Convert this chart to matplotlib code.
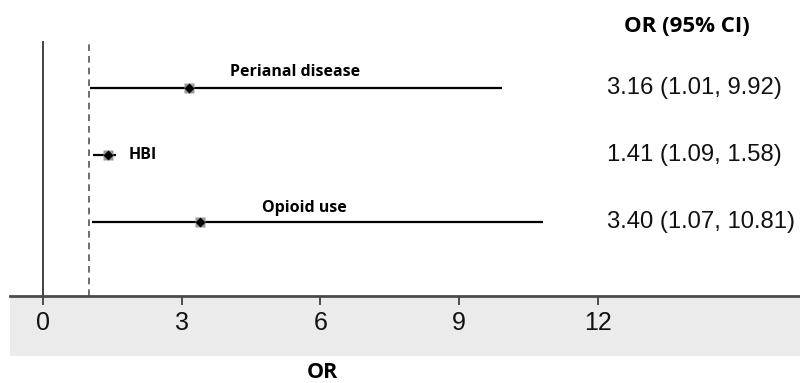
import matplotlib
matplotlib.use("Agg")
import matplotlib.pyplot as plt
from matplotlib import transforms
from matplotlib.patches import Rectangle

labels = ["Perianal disease", "HBI", "Opioid use"]
or_vals = [3.16, 1.41, 3.40]
ci_low = [1.01, 1.09, 1.07]
ci_high = [9.92, 1.58, 10.81]
rows = [3, 2, 1]
ci_text = ["3.16 (1.01, 9.92)", "1.41 (1.09, 1.58)", "3.40 (1.07, 10.81)"]
xticks = [0, 3, 6, 9, 12]

W, H = 800, 383
fig = plt.figure(figsize=(8, 3.83), dpi=100)
ax = fig.add_axes([10 / W, (H - 296) / H, 790 / W, (296 - 41) / H])

# gray band under axis
fig.patches.append(Rectangle((10 / W, (H - 356) / H), 790 / W, 60 / H,
                             transform=fig.transFigure, facecolor="#ebebeb",
                             edgecolor="none", zorder=-5))

ax.set_xlim(-33 / 46.25, 757 / 46.25)
ax.set_ylim(-0.096, 3.70)
ax.patch.set_alpha(0)

ax.axvline(0, color="#333333", lw=1.3, zorder=1)
ax.axvline(1, color="#555555", lw=1.2, ls=(0, (4, 3)), zorder=1)

for y, o, lo, hi in zip(rows, or_vals, ci_low, ci_high):
    ax.plot([lo, hi], [y, y], color="black", lw=1.6, zorder=2, solid_capstyle="butt")
    ax.plot([o], [y], marker="s", ms=7, color="#9a9a9a", mec="none", zorder=3)
    ax.plot([o], [y], marker="D", ms=5, color="black", mec="none", zorder=4)

lab_font = dict(family=["Open Sans", "DejaVu Sans"], fontweight="bold", fontsize=11.5)
ax.text(295 / 46.25 - 43 / 46.25, 3.24, labels[0], ha="center", va="center", **lab_font)
ax.text(129 / 46.25 - 43 / 46.25, 2.0, labels[1], ha="left", va="center", **lab_font)
ax.text(304 / 46.25 - 43 / 46.25, 2.21 - 1.0, labels[2], ha="center", va="center", **lab_font)

trans = transforms.blended_transform_factory(fig.transFigure, ax.transData)
for y, t in zip(rows, ci_text):
    ax.text(607 / W, y, t, transform=trans, ha="left", va="center",
            fontsize=17.2, family=["Liberation Sans", "DejaVu Sans"], color="#111111")

fig.text(687 / W, (H - 26) / H, "OR (95% CI)", ha="center", va="center",
         fontsize=16, fontweight="bold", family=["Open Sans", "DejaVu Sans"])
fig.text(322 / W, (H - 372) / H, "OR", ha="center", va="center",
         fontsize=15.5, fontweight="bold", family=["Open Sans", "DejaVu Sans"])

for s in ["top", "right", "left"]:
    ax.spines[s].set_visible(False)
ax.spines["bottom"].set_color("#4a4a4a")
ax.spines["bottom"].set_linewidth(2.0)
ax.set_yticks([])
ax.set_xticks(xticks)
ax.set_xticklabels([str(v) for v in xticks], fontsize=18,
                   family=["Liberation Sans", "DejaVu Sans"], color="#111111")
ax.tick_params(axis="x", direction="out", length=6.5, width=1.2, color="#333333", pad=4.5)

fig.savefig("out.png", dpi=100)
